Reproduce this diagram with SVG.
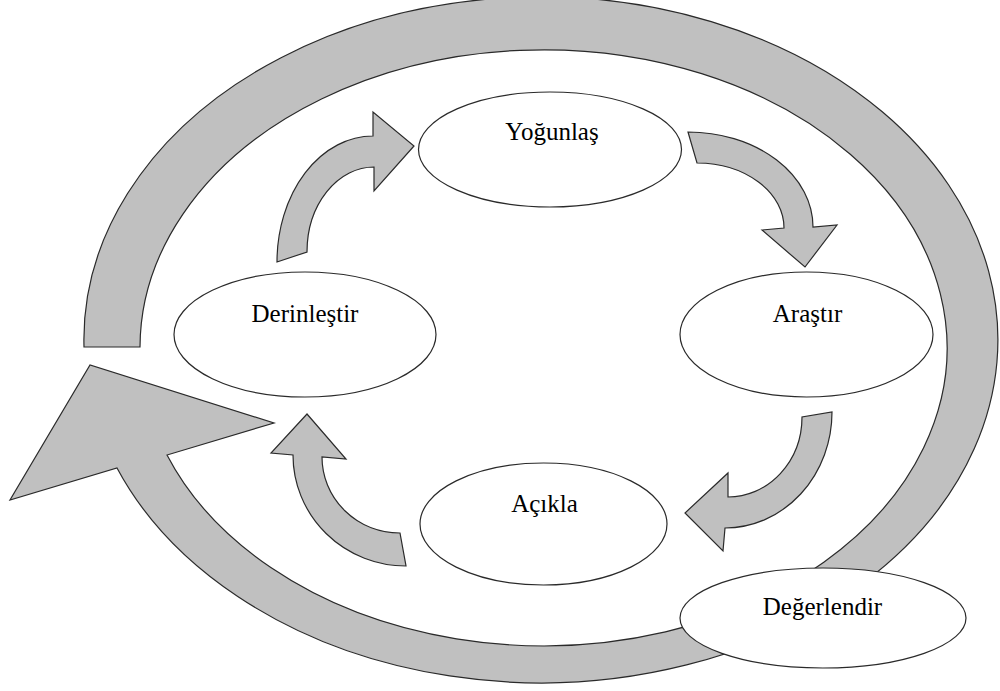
<svg xmlns="http://www.w3.org/2000/svg" width="1000" height="691" viewBox="0 0 1000 691">
<style>
.arr{fill:#c0c0c0;stroke:#2a2a2a;stroke-width:1.2;stroke-linejoin:miter}
.node{fill:#ffffff;stroke:#2a2a2a;stroke-width:1.2}
.lbl{font-family:"Liberation Serif","Times New Roman",serif;font-size:25px;fill:#000;text-anchor:middle}
</style>
<rect width="1000" height="691" fill="#ffffff"/>
<g id="connectors">
<path id="outer-cycle" class="arr" d="M 84 347 A 457 343 0 1 1 117 468 L 10 500 L 90 365 L 274 423 L 167 455 A 403.5 298 0 1 0 140 347 Z"/>
<path id="a-derin-yogun" class="arr" d="M 277 262 A 96 126 0 0 1 373 136 L 373 112 L 414 146 L 374 191 L 374 167 A 67 85 0 0 0 307 252 Z"/>
<path id="a-yogun-arastir" class="arr" d="M 688 132 A 125 95 0 0 1 813 227 L 837 225 L 805 267 L 762 230 L 784 228 A 87 65 0 0 0 697 163 Z"/>
<path id="a-arastir-acikla" class="arr" d="M 832 412 A 107 116 0 0 1 725 528 L 723 551 L 685 513 L 728 473 L 728 497 A 74 80 0 0 0 802 417 Z"/>
<path id="a-acikla-derin" class="arr" d="M 406 566 A 113 111 0 0 1 293 455 L 271 453 L 307 414 L 346 459 L 322 457 A 78 76 0 0 0 400 533 Z"/>
</g>
<g id="yogunlas">
<ellipse class="node" cx="550" cy="149.5" rx="131.5" ry="57.5"/>
<text class="lbl" x="552" y="140">Yoğunlaş</text>
</g>
<g id="arastir">
<ellipse class="node" cx="806.5" cy="334.5" rx="126.5" ry="62.5"/>
<text class="lbl" x="807.5" y="322">Araştır</text>
</g>
<g id="derinlestir">
<ellipse class="node" cx="305" cy="334.5" rx="131" ry="62.5"/>
<text class="lbl" x="305" y="322">Derinleştir</text>
</g>
<g id="acikla">
<ellipse class="node" cx="543.5" cy="524" rx="123.5" ry="61"/>
<text class="lbl" x="544.5" y="512">Açıkla</text>
</g>
<g id="degerlendir">
<ellipse class="node" cx="823" cy="618" rx="143" ry="50"/>
<text class="lbl" x="822.5" y="615">Değerlendir</text>
</g>
</svg>
